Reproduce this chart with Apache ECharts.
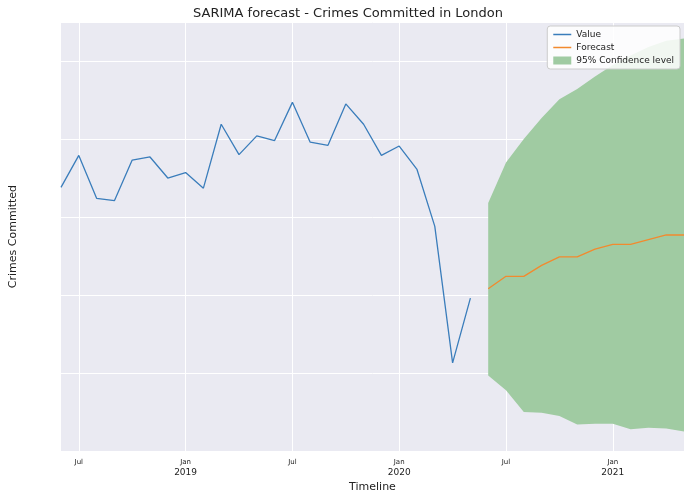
<!DOCTYPE html>
<html><head><meta charset="utf-8">
<script src="https://cdn.jsdelivr.net/npm/echarts@6/dist/echarts.min.js"></script>
<style>html,body{margin:0;padding:0;background:#fff}#c{width:696px;height:498px}</style>
</head><body><div id="c"></div>
<script>
const months = ["2018-06","2018-07","2018-08","2018-09","2018-10","2018-11","2018-12","2019-01","2019-02","2019-03","2019-04","2019-05","2019-06","2019-07","2019-08","2019-09","2019-10","2019-11","2019-12","2020-01","2020-02","2020-03","2020-04","2020-05","2020-06","2020-07","2020-08","2020-09","2020-10","2020-11","2020-12","2021-01","2021-02","2021-03","2021-04","2021-05"];
const valueData = [70800,74900,69400,69100,74300,74700,72000,72700,70700,78900,75000,77400,76800,81700,76600,76200,81500,78900,74900,76100,73100,65800,48300,56600];
const forecastData = [57800,59400,59400,60800,61900,61900,62900,63500,63500,64100,64700,64700];
const upperData = [68800,74000,77000,79700,82100,83400,85000,86500,87700,88800,89600,89900];
const lowerData = [46700,44800,42000,41900,41500,40400,40500,40500,39800,40000,39900,39500];
const pad = new Array(valueData.length).fill(null);
const valueSeries = valueData.concat(new Array(forecastData.length).fill(null));
const fcSeries = pad.concat(forecastData);
const lowSeries = pad.concat(lowerData);
const diffSeries = pad.concat(upperData.map((u,i)=>u-lowerData[i]));
const mn=['Jan','Feb','Mar','Apr','May','Jun','Jul','Aug','Sep','Oct','Nov','Dec'];
const chart = echarts.init(document.getElementById('c'));
chart.setOption({
  animation:false,
  backgroundColor:'#fff',
  title:{text:'SARIMA forecast - Crimes Committed in London',left:'center',top:2,textStyle:{fontSize:13,fontWeight:'normal',color:'#222',fontFamily:'DejaVu Sans'}},
  grid:{left:58,right:12,top:22,bottom:43,show:true,backgroundColor:'#eaeaf2',borderWidth:0},
  legend:{top:26,right:16,orient:'vertical',itemWidth:18,itemHeight:8,itemGap:4,backgroundColor:'rgba(255,255,255,0.85)',borderColor:'#ccc',borderWidth:1,borderRadius:3,padding:[4,6],
    textStyle:{fontSize:9,color:'#222',fontFamily:'DejaVu Sans'},
    data:[{name:'Value',icon:'path://M0,4h18v1.5h-18z'},{name:'Forecast',icon:'path://M0,4h18v1.5h-18z'},{name:'95% Confidence level',icon:'rect'}]},
  xAxis:{type:'category',data:months,boundaryGap:false,
    name:'Timeline',nameLocation:'middle',nameGap:28,nameTextStyle:{fontSize:11,color:'#222',fontFamily:'DejaVu Sans'},
    axisLine:{show:false},axisTick:{show:false},
    axisLabel:{interval:0,color:'#222',fontFamily:'DejaVu Sans',formatter:v=>{const [y,m]=v.split('-');const mm=+m;if(mm===7)return '{s|Jul}';if(mm===1)return '{s|Jan}\n{y|'+y+'}';return '';},
      rich:{s:{fontSize:7,color:'#222'},y:{fontSize:9,color:'#222',padding:[2,0,0,0]}}},
    splitLine:{show:true,interval:(i,v)=>{const m=+v.split('-')[1];return m===1||m===7;},lineStyle:{color:'#fff',width:1}}},
  yAxis:{type:'value',min:37000,max:92000,interval:10000,
    axisLabel:{color:'#222',fontSize:9,fontFamily:'DejaVu Sans',showMinLabel:false,showMaxLabel:false,formatter:v=>v%10000===0?v:''},
    name:'Crimes Committed',nameLocation:'middle',nameGap:42,nameTextStyle:{fontSize:11,color:'#222',fontFamily:'DejaVu Sans'},
    axisLine:{show:false},axisTick:{show:false},splitLine:{lineStyle:{color:'#fff'}}},
  series:[
    {name:'lower',type:'line',data:lowSeries,stack:'ci',symbol:'none',lineStyle:{width:0},areaStyle:{opacity:0},silent:true},
    {name:'95% Confidence level',type:'line',data:diffSeries,stack:'ci',symbol:'none',lineStyle:{width:0},itemStyle:{color:'#a0cba2'},areaStyle:{color:'#a0cba2',opacity:1}},
    {name:'Value',type:'line',data:valueSeries,symbol:'none',itemStyle:{color:'#3a7dbb'},lineStyle:{width:1.3,color:'#3a7dbb'}},
    {name:'Forecast',type:'line',data:fcSeries,symbol:'none',itemStyle:{color:'#f28a2e'},lineStyle:{width:1.3,color:'#f28a2e'}}
  ]
});
</script></body></html>
